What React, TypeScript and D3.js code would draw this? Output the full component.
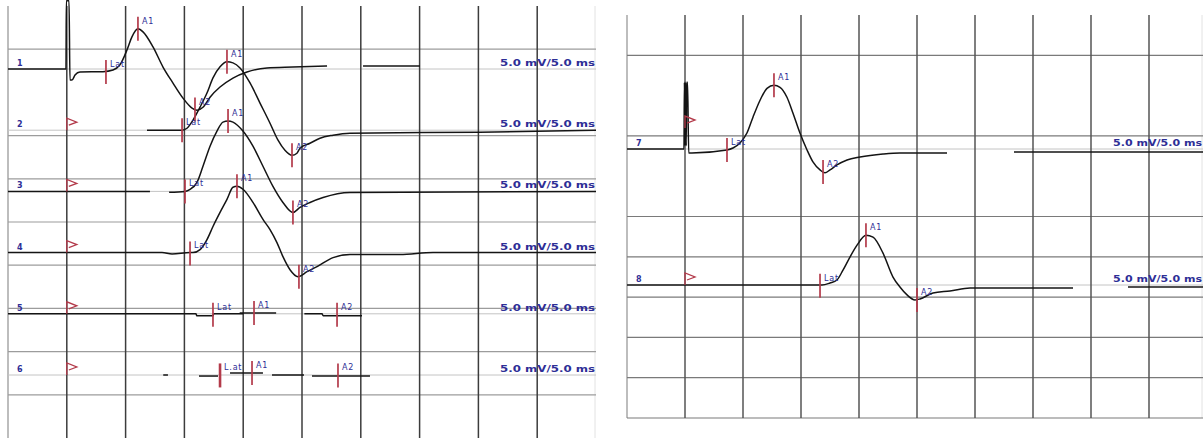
import React from "react";
import * as d3 from "d3";

const W = 1203;
const H = 439;

type Pt = [number, number];
type Mk = [string, number, number];

// rows
const leftRows = ["1", "2", "3", "4", "5", "6"];
const rightRows = ["7", "8"];
const gridMs = [5, 10, 15, 20, 25, 30, 35, 40, 45];
const gridLeftMv = [45, 35, 30, 25, 20, 15, 10, 5];
const gridRightMv = [45, 35, 25, 20, 15, 10, 5, 0];
const scaleLabel = "5.0 mV/5.0 ms";
const flagRowsLeft = ["2", "3", "4", "5", "6"];
const flagsRight: [string, number, number][] = [["7", 5, 2.6], ["8", 5, 0]];

// traces: segments of [ms, mV]
const trace1: Pt[][] = [
  [[0, 0], [4.93, 0], [4.96, 7.9], [5.19, 7.9], [5.27, -1.28], [5.44, -1.28], [5.7, -0.7], [6.12, -0.35], [8.08, -0.31],
   [8.93, -0.12], [9.52, 0.47], [10.12, 2.21], [10.54, 3.72], [11.05, 4.65], [11.48, 4.3], [12.33, 2.56], [13.18, 0.23],
   [14.03, -1.63], [14.88, -3.37], [15.65, -4.53], [16.07, -4.77], [16.58, -4.42], [17.18, -3.26], [18.03, -2.09],
   [19.13, -1.05], [20.32, -0.35], [22.02, 0.12], [24.23, 0.23], [27.13, 0.35]],
  [[30.19, 0.35], [35.03, 0.35]],
];
const trace2: Pt[][] = [
  [[11.82, 0], [14.8, 0], [15.22, 0.23], [15.73, 1.16], [16.33, 2.67], [16.92, 4.3], [17.43, 6.05], [18.03, 7.33],
   [18.62, 7.91], [19.13, 7.79], [19.73, 7.21], [20.58, 5.47], [21.43, 3.14], [22.28, 0.81], [22.96, -1.16],
   [23.55, -2.33], [24.15, -2.91], [24.57, -2.67], [24.83, -2.09], [25.68, -1.51], [26.53, -0.93], [27.64, -0.58],
   [29.08, -0.35], [40.1, -0.23], [50, 0]],
];
const trace3: Pt[][] = [
  [[0, 0], [12.07, 0]],
  [[13.7, -0.1], [15.05, 0], [15.48, 0.23], [16.07, 1.05], [16.58, 2.91], [17.18, 5.23], [17.77, 6.98], [18.28, 8.02],
   [18.71, 8.14], [19.13, 8.02], [19.98, 6.98], [20.83, 5.23], [21.68, 2.91], [22.53, 0.58], [23.38, -1.28],
   [24.23, -2.44], [24.83, -1.86], [25.68, -1.28], [26.79, -0.7], [29.08, -0.12], [50, 0]],
];
const trace4: Pt[][] = [
  [[0, 0], [13.1, 0], [13.95, -0.17], [15.48, 0], [15.73, 0], [16.33, 0.35], [16.92, 1.51], [17.43, 3.02], [18.03, 4.65],
   [18.62, 6.16], [19.13, 7.56], [19.47, 7.67], [19.98, 7.33], [20.83, 5.81], [21.68, 3.84], [22.28, 2.67],
   [22.87, 1.16], [23.38, -0.47], [23.98, -1.98], [24.66, -2.79], [25.43, -2.21], [26.28, -1.63], [27.64, -0.58],
   [29.08, -0.23], [33.33, -0.23], [36.14, 0], [50, 0]],
];
const trace5: Pt[][] = [
  [[0, 0], [15.99, 0], [16.05, -0.23], [17.43, -0.23], [17.5, 0], [20.0, 0]],
  [[19.7, 0.1], [22.8, 0.1]],
  [[25.2, 0], [26.7, 0], [26.8, -0.23], [30.1, -0.23]],
];
const trace6: Pt[][] = [
  [[13.2, 0], [13.6, 0]],
  [[16.24, -0.12], [17.86, -0.12]],
  [[18.88, 0.23], [21.68, 0.23]],
  [[22.45, 0], [25.17, 0]],
  [[25.85, -0.12], [30.78, -0.12]],
];
const trace7: Pt[][] = [
  [[0, 0], [4.91, 0], [4.95, 8.27], [5.0, 0.4], [5.05, 8.27], [5.1, 0.4], [5.15, 8.27], [5.22, 8.27], [5.32, -0.49],
   [5.6, -0.49], [8.62, -0.12], [9.14, 0.12], [9.74, 0.74], [10.34, 1.98], [10.86, 3.95], [11.47, 6.05], [12.07, 7.53],
   [12.67, 7.9], [13.19, 7.65], [13.79, 6.42], [14.31, 4.44], [14.91, 1.98], [15.52, -0.12], [16.03, -1.6],
   [16.64, -2.59], [17.07, -2.96], [17.5, -2.59], [18.1, -1.98], [18.97, -1.36], [20.09, -0.99], [22.07, -0.62],
   [23.53, -0.49], [27.59, -0.49]],
  [[33.36, -0.37], [49.66, -0.37]],
];
const trace8: Pt[][] = [
  [[0, 0], [16.81, 0], [17.5, 0.25], [18.1, 0.62], [18.62, 1.85], [19.22, 3.46], [19.83, 4.94], [20.6, 6.17],
   [21.21, 5.93], [22.07, 3.95], [22.93, 0.99], [23.53, -0.25], [24.14, -1.23], [24.83, -1.85], [25.26, -1.73],
   [26.38, -0.99], [27.84, -0.74], [29.57, -0.37], [38.45, -0.37]],
  [[43.19, -0.25], [49.66, -0.25]],
];

// markers: [label, ms, mV]
const markers1: Mk[] = [["Lat", 8.33, -0.35], ["A1", 11.05, 4.65], ["A2", 15.9, -4.7]];
const markers2: Mk[] = [["Lat", 14.8, 0], ["A1", 18.62, 7.91], ["A2", 24.15, -2.91]];
const markers3: Mk[] = [["Lat", 15.05, 0], ["A1", 18.71, 8.14], ["A2", 24.23, -2.44]];
const markers4: Mk[] = [["Lat", 15.48, -0.1], ["A1", 19.47, 7.67], ["A2", 24.74, -2.79]];
const markers5: Mk[] = [["Lat", 17.43, -0.1], ["A1", 20.92, 0.1], ["A2", 27.98, -0.1]];
const markers6: Mk[] = [["L.at", 18.03, -0.05], ["A1", 20.75, 0.23], ["A2", 28.06, -0.05]];
const markers7: Mk[] = [["Lat", 8.62, -0.12], ["A1", 12.67, 7.9], ["A2", 16.9, -2.85]];
const markers8: Mk[] = [["Lat", 16.64, -0.1], ["A1", 20.6, 6.17], ["A2", 25.0, -1.85]];

const leftTraces = [trace1, trace2, trace3, trace4, trace5, trace6];
const leftMarkers = [markers1, markers2, markers3, markers4, markers5, markers6];
const rightTraces = [trace7, trace8];
const rightMarkers = [markers7, markers8];

const BLUE = "#2e2e96";
const RED = "#b33a4a";
const FONT = "'DejaVu Sans', Verdana, sans-serif";

function Panel(props: {
  x0: number; x1: number; yTop: number; yBot: number;
  gridMv: number[]; rows: string[]; baseTop: number; baseBot: number;
  traces: Pt[][][]; markers: Mk[][]; flags: [string, number, number][];
  vColor: string; hColor: string; labelW: number;
}) {
  const { x0, x1, yTop, yBot, gridMv, rows, baseTop, baseBot, traces, markers, flags, vColor, hColor, labelW } = props;
  const x = d3.scaleLinear().domain([0, 50]).range([x0, x1]);
  const yG = d3.scaleLinear().domain([50, 0]).range([yTop, yBot]);
  const amp = (v: number) => yG(v) - yG(0);
  const base = d3.scalePoint<string>().domain(rows).range([baseTop, baseBot]);
  const right = Math.min(x1, W);
  return (
    <g>
      <line x1={x0} x2={x0} y1={yTop} y2={yBot} stroke="#9a9a9a" strokeWidth={1.3} />
      <line x1={right - 1} x2={right - 1} y1={yTop} y2={yBot} stroke="#e2e2e2" strokeWidth={1} />
      {gridMv.map((m) => (
        <line key={"h" + m} x1={x0} x2={right} y1={yG(m)} y2={yG(m)} stroke={hColor} strokeWidth={1.2} />
      ))}
      {rows.map((r) => (
        <line key={"b" + r} x1={x0} x2={right} y1={base(r)!} y2={base(r)!} stroke="#c4c4c4" strokeWidth={1} />
      ))}
      {gridMs.map((t) => (
        <line key={"v" + t} x1={x(t)} x2={x(t)} y1={yTop} y2={yBot} stroke={vColor} strokeWidth={1.5} />
      ))}
      {traces.map((segs, i) => {
        const b = base(rows[i])!;
        const line = d3.line<Pt>().x((d) => x(d[0])).y((d) => b + amp(d[1])).curve(d3.curveMonotoneX);
        return segs.map((s, j) => (
          <path key={"t" + i + "-" + j} d={line(s) || ""} fill="none" stroke="#141414" strokeWidth={1.5} />
        ));
      })}
      {flags.map(([r, t, v]) => {
        const fx = x(t);
        const fy = base(r)! + amp(v);
        return (
          <path key={"f" + r} d={`M${fx},${fy} L${fx},${fy - 12} L${fx + 10},${fy - 8} L${fx + 2},${fy - 5}`}
            fill="none" stroke={RED} strokeWidth={1.3} />
        );
      })}
      {markers.map((ms, i) => {
        const b = base(rows[i])!;
        return ms.map(([lab, t, v]) => {
          const mx = x(t);
          const my = b + amp(v);
          return (
            <g key={"m" + i + lab}>
              <line x1={mx} x2={mx} y1={my - 12} y2={my + 12} stroke={RED} strokeWidth={lab === "L.at" ? 2.6 : 1.7} />
              <text x={mx + 4} y={my - 5} fontSize={8} fontFamily={FONT} fill={BLUE} letterSpacing={0.8}>{lab}</text>
            </g>
          );
        });
      })}
      {rows.map((r) => (
        <text key={"l" + r} x={x0 + 9} y={base(r)! - 3} fontSize={8} fontWeight="bold" fontFamily={FONT} fill={BLUE}>{r}</text>
      ))}
      {rows.map((r) => (
        <text key={"s" + r} x={right - labelW - 1} y={base(r)! - 3} fontSize={8.5} fontWeight="bold" fontFamily={FONT} fill={BLUE}
          textLength={labelW} lengthAdjust="spacingAndGlyphs">{scaleLabel}</text>
      ))}
    </g>
  );
}

export default function App() {
  return (
    <svg width={W} height={H} style={{ position: "absolute", left: 0, top: 0, background: "#fff" }}>
      <rect x={0} y={0} width={W} height={H} fill="#fff" />
      <Panel x0={8} x1={596} yTop={6} yBot={438} gridMv={gridLeftMv} rows={leftRows} baseTop={69} baseBot={375}
        traces={leftTraces} markers={leftMarkers} flags={flagRowsLeft.map((r) => [r, 5, 0] as [string, number, number])}
        vColor="#3c3c3c" hColor="#9c9c9c" labelW={95} />
      <Panel x0={627} x1={1207} yTop={15} yBot={418} gridMv={gridRightMv} rows={rightRows} baseTop={149} baseBot={285}
        traces={rightTraces} markers={rightMarkers} flags={flagsRight}
        vColor="#555" hColor="#7a7a7a" labelW={89} />
    </svg>
  );
}
